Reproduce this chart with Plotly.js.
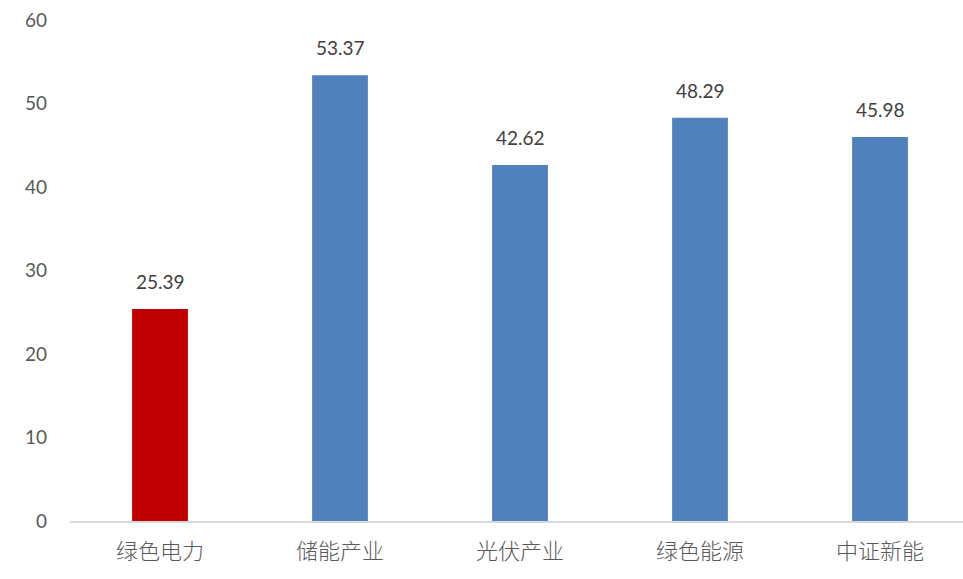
<!DOCTYPE html>
<html><head><meta charset="utf-8">
<script src="https://cdn.plot.ly/plotly-3.0.1.min.js"></script>
<style>body{margin:0;background:#fff}#c{width:963px;height:579px}</style>
</head><body><div id="c"></div>
<script>
const categories = ["绿色电力","储能产业","光伏产业","绿色能源","中证新能"];
const values = [25.39, 53.37, 42.62, 48.29, 45.98];
const barColors = ["#C00000","#4F81BD","#4F81BD","#4F81BD","#4F81BD"];
const yTicks = [0,10,20,30,40,50,60];

const trace = {
  type: "bar",
  x: categories,
  y: values,
  marker: {color: barColors},
  width: 0.31,
  hoverinfo: "none"
};
const annotations = categories.map((c, i) => ({
  x: c, y: values[i], xref: "x", yref: "y",
  text: values[i].toFixed(2),
  showarrow: false, yanchor: "bottom", yshift: 14,
  font: {family: "Lato, 'Open Sans', sans-serif", size: 19, color: "#404040"}
}));
const layout = {
  width: 963, height: 579,
  margin: {l: 70, r: 0, t: 20, b: 58},
  paper_bgcolor: "#fff", plot_bgcolor: "#fff",
  showlegend: false,
  annotations: annotations,
  xaxis: {
    type: "category",
    range: [-0.5, 4.461],
    showline: true, linecolor: "#D9D9D9", linewidth: 1.5,
    showgrid: false, zeroline: false, ticks: "",
    ticklabelstandoff: 10,
    tickfont: {family: "'Noto Sans CJK SC', sans-serif", size: 22, color: "#595959", weight: 300}
  },
  yaxis: {
    range: [0, 60],
    tickvals: yTicks,
    showgrid: false, zeroline: false, showline: false, ticks: "",
    ticklabelstandoff: 22,
    tickfont: {family: "Lato, 'Open Sans', sans-serif", size: 19, color: "#595959"}
  }
};
Plotly.newPlot("c", [trace], layout, {staticPlot: true});
</script></body></html>
